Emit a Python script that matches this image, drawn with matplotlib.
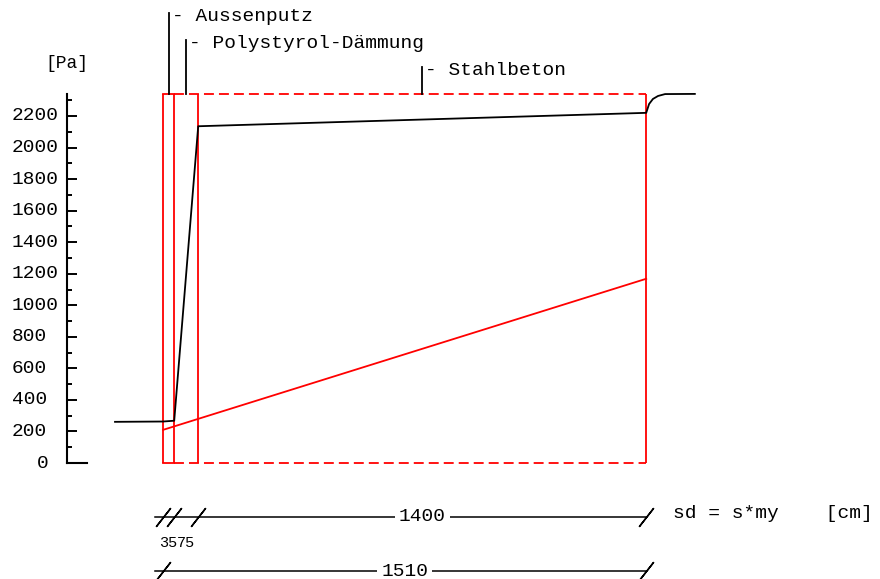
import matplotlib.pyplot as plt
import matplotlib.transforms as mtransforms
import numpy as np

# --- layer data (sd in cm) ---
layer_names = ["Aussenputz", "Polystyrol-Dämmung", "Stahlbeton"]
layer_sd = [35, 75, 1400]
layer_sd_labels = ["35", "75", "1400"]
total_sd_label = "1510"

# saturation pressure ps [Pa] along sd
ps_sd = [-150, 0, 35, 110, 1510, 1519, 1531, 1547, 1569, 1662]
ps_pa = [261, 263, 268, 2135, 2220, 2276, 2308, 2327, 2339, 2340]

# partial vapour pressure p [Pa]
p_sd = [0, 1510]
p_pa = [210, 1168]

pa_top = 2340
y_major = list(range(0, 2201, 200))
y_minor = list(range(100, 2301, 200))

RED = "#ff0000"
FONT = "Liberation Mono"
FS = 14

bounds = np.concatenate([[0], np.cumsum(layer_sd)])
total = bounds[-1]

fig = plt.figure(figsize=(8.8, 5.79), dpi=100)
ax = fig.add_axes([0, 0, 1, 1])
ax.set_xlim(-509.4, 2240.6)
ax.set_ylim(-735.4, 2935.4)
ax.patch.set_visible(False)

# --- y axis as left spine at sd = -300 ---
axis_x = -300
for s in ["top", "right", "bottom"]:
    ax.spines[s].set_visible(False)
ax.spines["left"].set_position(("data", axis_x))
ax.spines["left"].set_bounds(0, pa_top)
ax.spines["left"].set_linewidth(1.5)
ax.xaxis.set_visible(False)
ax.set_yticks(y_major)
ax.set_yticks(y_minor, minor=True)
ax.tick_params(axis="y", which="major", direction="in", length=7.2, width=1.4, labelleft=False)
ax.tick_params(axis="y", which="minor", direction="in", length=3.6, width=1.4)
ax.plot([axis_x, axis_x + 63], [0, 0], color="black", lw=1.5)

for v in y_major:
    if v == 0:
        ax.text(axis_x - 57, v, str(v), ha="right", va="center", family=FONT, fontsize=FS)
    else:
        ax.text(axis_x - 172, v, str(v), ha="left", va="center", family=FONT, fontsize=FS)
ax.text(axis_x, 2530, "[Pa]", ha="center", va="center", family=FONT, fontsize=13)

# --- layer boxes ---
ax.vlines(bounds, 0, pa_top, color=RED, lw=1.3)
for y in [0, pa_top]:
    ax.plot(bounds[:2], [y, y], color=RED, lw=1.3)
    ax.plot([bounds[1], total], [y, y], color=RED, lw=1.3, dashes=(5.5, 2.8))

# --- curves ---
ax.plot(ps_sd, ps_pa, color="black", lw=1.3)
ax.plot(p_sd, p_pa, color=RED, lw=1.3)

# --- layer labels with leader lines ---
txt_off = mtransforms.offset_copy(ax.transData, fig=fig, x=3, y=-3, units="dots")
for i, name in enumerate(layer_names):
    xc = (bounds[i] + bounds[i + 1]) / 2
    ytop = pa_top + (len(layer_names) - i) * 170
    ax.plot([xc, xc], [pa_top, ytop], color="black", lw=1.3)
    ax.text(xc, ytop, "- " + name, ha="left", va="center", transform=txt_off,
            family=FONT, fontsize=FS)

# --- dimension lines ---
dim1, dim2 = -342, -685
slash = dict(ls="none", marker=(2, 2, -38), markersize=17, mec="black", mew=1.1)
ax.plot([-25, total], [dim1, dim1], color="black", lw=1.1)
ax.plot(bounds, [dim1] * len(bounds), **slash)
ax.plot([-25, total], [dim2, dim2], color="black", lw=1.1)
ax.plot([0, total], [dim2, dim2], **slash)

box = dict(facecolor="white", edgecolor="none", pad=3)
ax.text((bounds[2] + bounds[3]) / 2, dim1, layer_sd_labels[2], ha="center", va="center",
        family=FONT, fontsize=FS, bbox=box)
ax.text(total / 2, dim2, total_sd_label, ha="center", va="center",
        family=FONT, fontsize=FS, bbox=box)
for i in range(2):
    xc = (bounds[i] + bounds[i + 1]) / 2
    ax.text(xc, -507, layer_sd_labels[i], ha="center", va="center",
            family=FONT, fontsize=11)

sd_off = mtransforms.offset_copy(ax.transData, fig=fig, x=27, y=3, units="dots")
ax.text(total, dim1, "sd = s*my    [cm]", ha="left", va="center", transform=sd_off,
        family=FONT, fontsize=FS)

fig.savefig("out.png", dpi=100)
